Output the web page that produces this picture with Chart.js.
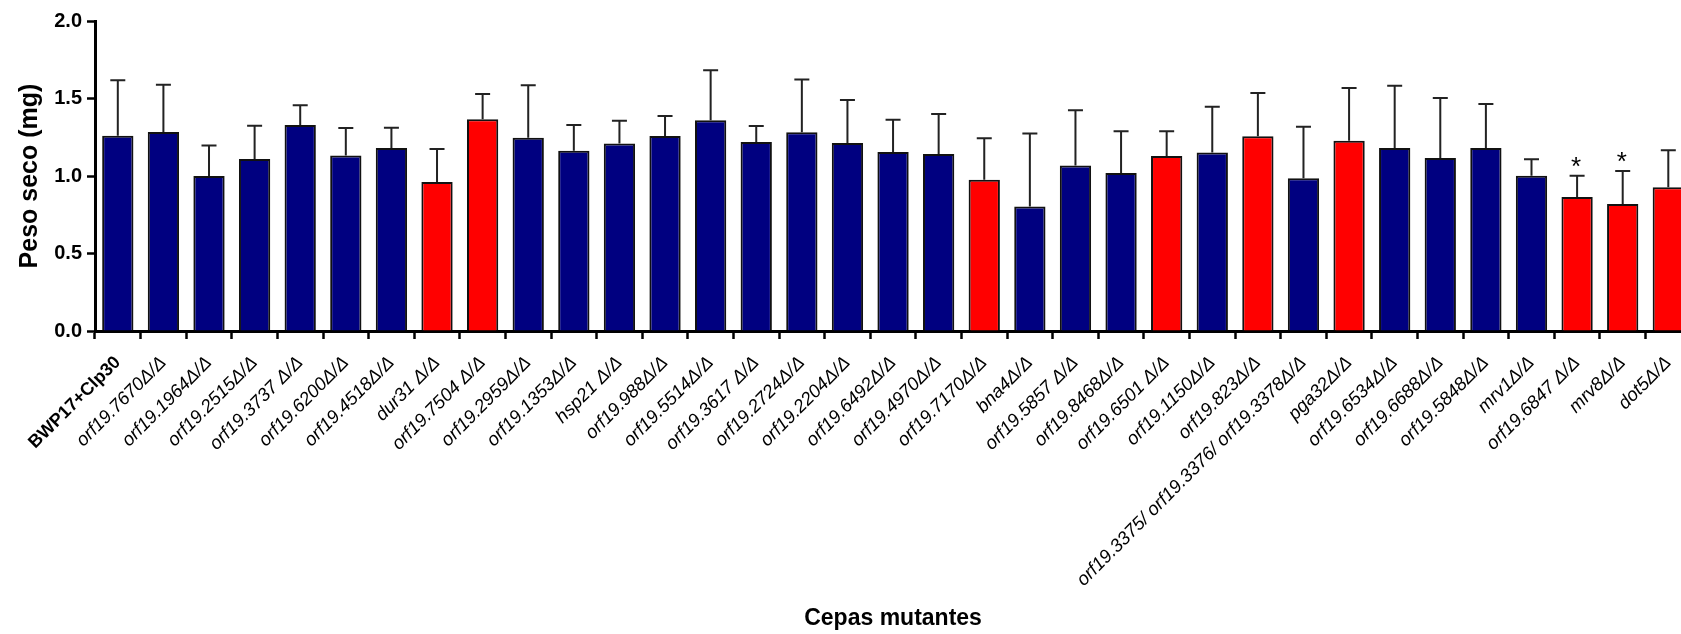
<!DOCTYPE html>
<html lang="es">
<head>
<meta charset="utf-8">
<title>Peso seco - cepas mutantes</title>
<script src="https://cdn.jsdelivr.net/npm/chart.js@4.4.1/dist/chart.umd.min.js"></script>
<style>
  html, body { margin: 0; padding: 0; background: #fff; overflow: hidden; }
  /* wider than the window: the last bar is cut at the right edge like the original */
  #wrap { position: relative; width: 1697px; height: 634px; }
</style>
</head>
<body>
<div id="wrap"><canvas id="pesoChart"></canvas></div>
<script>
// Data
const cepas = [
  'BWP17+Clp30',
  'orf19.7670\u0394/\u0394', 'orf19.1964\u0394/\u0394', 'orf19.2515\u0394/\u0394',
  'orf19.3737 \u0394/\u0394', 'orf19.6200\u0394/\u0394', 'orf19.4518\u0394/\u0394',
  'dur31 \u0394/\u0394', 'orf19.7504 \u0394/\u0394', 'orf19.2959\u0394/\u0394',
  'orf19.1353\u0394/\u0394', 'hsp21 \u0394/\u0394', 'orf19.988\u0394/\u0394',
  'orf19.5514\u0394/\u0394', 'orf19.3617 \u0394/\u0394', 'orf19.2724\u0394/\u0394',
  'orf19.2204\u0394/\u0394', 'orf19.6492\u0394/\u0394', 'orf19.4970\u0394/\u0394',
  'orf19.7170\u0394/\u0394', 'bna4\u0394/\u0394', 'orf19.5857 \u0394/\u0394',
  'orf19.8468\u0394/\u0394', 'orf19.6501 \u0394/\u0394', 'orf19.1150\u0394/\u0394',
  'orf19.823\u0394/\u0394', 'orf19.3375/ orf19.3376/ orf19.3378\u0394/\u0394',
  'pga32\u0394/\u0394', 'orf19.6534\u0394/\u0394', 'orf19.6688\u0394/\u0394',
  'orf19.5848\u0394/\u0394', 'mrv1\u0394/\u0394', 'orf19.6847 \u0394/\u0394',
  'mrv8\u0394/\u0394', 'dot5\u0394/\u0394'
];

const pesoMedio = [
  1.26, 1.284, 1.00, 1.11, 1.329, 1.133, 1.181, 0.961, 1.366, 1.247,
  1.163, 1.209, 1.258, 1.359, 1.219, 1.282, 1.213, 1.155, 1.142, 0.976,
  0.804, 1.067, 1.019, 1.129, 1.151, 1.256, 0.985, 1.228, 1.181, 1.116,
  1.181, 1.002, 0.865, 0.819, 0.927
];

const pesoError = [
  0.357, 0.305, 0.196, 0.215, 0.127, 0.177, 0.131, 0.213, 0.163, 0.338,
  0.166, 0.148, 0.129, 0.323, 0.104, 0.340, 0.277, 0.208, 0.258, 0.267,
  0.471, 0.357, 0.269, 0.159, 0.296, 0.279, 0.333, 0.340, 0.402, 0.387,
  0.284, 0.106, 0.137, 0.213, 0.239
];

// bars drawn in red
const destacadas = [
  'dur31 \u0394/\u0394', 'orf19.7504 \u0394/\u0394', 'orf19.7170\u0394/\u0394',
  'orf19.6501 \u0394/\u0394', 'orf19.823\u0394/\u0394', 'pga32\u0394/\u0394',
  'orf19.6847 \u0394/\u0394', 'mrv8\u0394/\u0394', 'dot5\u0394/\u0394'
];

// bars marked with *
const significativas = ['orf19.6847 \u0394/\u0394', 'mrv8\u0394/\u0394'];

const yTicks = [0, 0.5, 1.0, 1.5, 2.0];

const FONT = 'Arial, "Liberation Sans", sans-serif';
const AZUL = '#000080';
const ROJO = '#FF0000';

Chart.defaults.color = '#000';
Chart.defaults.font.family = FONT;

// Upper error whiskers + significance stars
const barrasError = {
  id: 'barrasError',
  afterDatasetsDraw(chart) {
    const { ctx, scales } = chart;
    const y = scales.y;
    const meta = chart.getDatasetMeta(0);
    ctx.save();
    ctx.strokeStyle = '#222';
    ctx.lineWidth = 2;
    ctx.fillStyle = '#000';
    ctx.font = '26px ' + FONT;
    ctx.textAlign = 'center';
    ctx.textBaseline = 'alphabetic';
    meta.data.forEach((bar, i) => {
      const base = y.getPixelForValue(pesoMedio[i]);
      const top = y.getPixelForValue(pesoMedio[i] + pesoError[i]);
      ctx.beginPath();
      ctx.moveTo(bar.x, base);
      ctx.lineTo(bar.x, top);
      ctx.moveTo(bar.x - 7.5, top);
      ctx.lineTo(bar.x + 7.5, top);
      ctx.stroke();
      if (significativas.includes(cepas[i])) {
        ctx.fillText('*', bar.x - 1, top - 1);
      }
    });
    ctx.restore();
  }
};

function createPesoChart(elementId) {
  const ctx = document.getElementById(elementId).getContext('2d');

  return new Chart(ctx, {
    type: 'bar',
    data: {
      labels: cepas,
      datasets: [{
        label: 'Peso seco',
        data: pesoMedio,
        backgroundColor: cepas.map(c => destacadas.includes(c) ? ROJO : AZUL),
        borderColor: '#111',
        borderWidth: 2,
        categoryPercentage: 1.0,
        barPercentage: 0.686
      }]
    },
    options: {
      responsive: true,
      maintainAspectRatio: false,
      animation: false,
      layout: { padding: { top: 21, left: 0, right: 0, bottom: 0 } },
      plugins: {
        legend: { display: false },
        tooltip: { enabled: false }
      },
      scales: {
        x: {
          offset: true,
          afterFit: (scale) => { scale.height = 303; },
          grid: {
            drawOnChartArea: false,
            drawTicks: true,
            tickLength: 8,
            tickWidth: 2.5,
            tickColor: '#000'
          },
          border: { display: true, color: '#000', width: 3 },
          ticks: {
            autoSkip: false,
            minRotation: 45,
            maxRotation: 45,
            padding: 13,
            color: '#000',
            font: (c) => c.index === 0
              ? { family: FONT, size: 18, weight: 'bold', style: 'normal' }
              : { family: FONT, size: 18.5, weight: 'normal', style: 'italic' }
          },
          title: {
            display: true,
            text: 'Cepas mutantes',
            color: '#000',
            font: { family: FONT, size: 23, weight: 'bold' },
            padding: { top: 0, bottom: 2 }
          }
        },
        y: {
          min: 0,
          max: 2,
          afterFit: (scale) => { scale.width = 95; },
          afterBuildTicks: (scale) => { scale.ticks = yTicks.map(v => ({ value: v })); },
          grid: {
            drawOnChartArea: false,
            drawTicks: true,
            tickLength: 8,
            tickWidth: 2.5,
            tickColor: '#000'
          },
          border: { display: true, color: '#000', width: 3 },
          ticks: {
            padding: 5,
            color: '#000',
            font: { family: FONT, size: 20, weight: 'bold' },
            callback: (v) => Number(v).toFixed(1)
          },
          title: {
            display: true,
            text: 'Peso seco (mg)',
            color: '#000',
            font: { family: FONT, size: 25, weight: 'bold' },
            padding: { top: 15, bottom: 0 }
          }
        }
      }
    },
    plugins: [barrasError]
  });
}

document.addEventListener('DOMContentLoaded', function() {
  if (document.getElementById('pesoChart')) {
    createPesoChart('pesoChart');
  }
});
</script>
</body>
</html>
